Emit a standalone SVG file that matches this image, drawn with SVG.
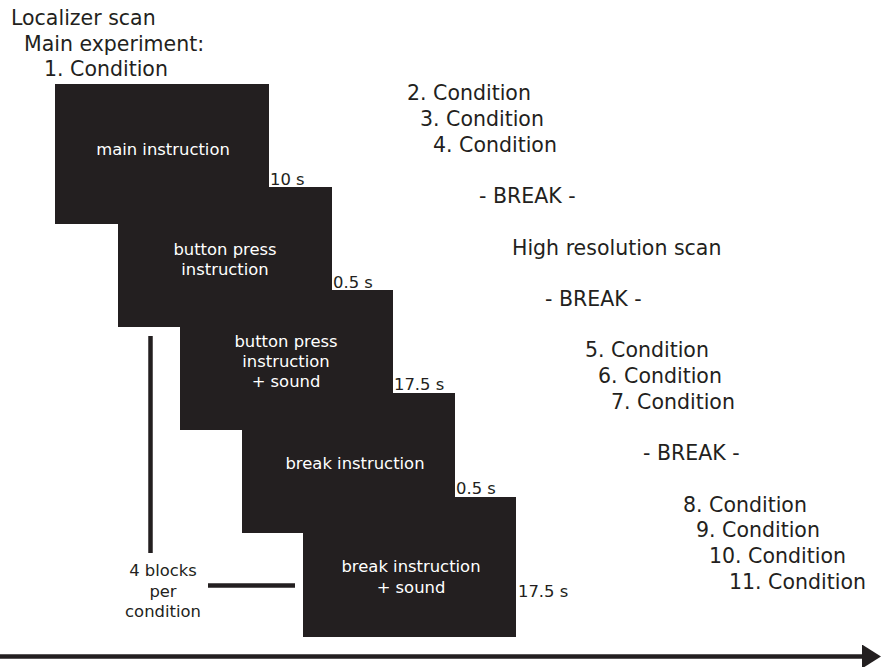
<svg xmlns="http://www.w3.org/2000/svg" width="881" height="667" viewBox="0 0 881 667">
<style>
text{font-family:"DejaVu Sans","Liberation Sans",sans-serif;fill:#231f20}
.big{font-size:20.5px}
.box{fill:#231f20}
.in{font-size:16.4px;fill:#ffffff;text-anchor:middle}
.dur{font-size:16.4px}
.note{font-size:16.4px;text-anchor:middle}
.bar{stroke:#231f20;stroke-width:4.5;fill:none}
</style>
<defs>
<marker id="ah" viewBox="0 0 10 10" refX="0" refY="5" markerWidth="19" markerHeight="24" markerUnits="userSpaceOnUse" orient="auto" preserveAspectRatio="none">
<path d="M0,0 L10,5 L0,10 Z" fill="#231f20"/>
</marker>
</defs>
<rect width="881" height="667" fill="#ffffff"/>
<g id="header">
<text class="big" x="11" y="25">Localizer scan</text>
<text class="big" x="24" y="51">Main experiment:</text>
<text class="big" x="44" y="76">1. Condition</text>
</g>
<g id="box1">
<rect class="box" x="55" y="84" width="214" height="140"/>
<text class="in" x="163" y="155">main instruction</text>
<text class="dur" x="270" y="185">10 s</text>
</g>
<g id="box2">
<rect class="box" x="118" y="187" width="214" height="140"/>
<text class="in" x="225" y="255">button press</text>
<text class="in" x="225" y="275">instruction</text>
<text class="dur" x="333" y="288">0.5 s</text>
</g>
<g id="box3">
<rect class="box" x="180" y="290" width="213" height="140"/>
<text class="in" x="286" y="347">button press</text>
<text class="in" x="286" y="367">instruction</text>
<text class="in" x="286" y="387">+ sound</text>
<text class="dur" x="394" y="390">17.5 s</text>
</g>
<g id="box4">
<rect class="box" x="242" y="393" width="213" height="140"/>
<text class="in" x="355" y="469">break instruction</text>
<text class="dur" x="456" y="494">0.5 s</text>
</g>
<g id="box5">
<rect class="box" x="303" y="497" width="213" height="140"/>
<text class="in" x="411" y="572">break instruction</text>
<text class="in" x="411" y="593">+ sound</text>
<text class="dur" x="518" y="597">17.5 s</text>
</g>
<g id="blocks-note">
<text class="note" x="163" y="576">4 blocks</text>
<text class="note" x="163" y="597">per</text>
<text class="note" x="163" y="617">condition</text>
</g>
<g id="sequence">
<text class="big" x="407" y="100">2. Condition</text>
<text class="big" x="420" y="126">3. Condition</text>
<text class="big" x="433" y="152">4. Condition</text>
<text class="big" x="479" y="203">- BREAK -</text>
<text class="big" x="512" y="255">High resolution scan</text>
<text class="big" x="545" y="306">- BREAK -</text>
<text class="big" x="585" y="357">5. Condition</text>
<text class="big" x="598" y="383">6. Condition</text>
<text class="big" x="611" y="409">7. Condition</text>
<text class="big" x="643" y="460">- BREAK -</text>
<text class="big" x="683" y="512">8. Condition</text>
<text class="big" x="696" y="537">9. Condition</text>
<text class="big" x="709" y="563">10. Condition</text>
<text class="big" x="729" y="589">11. Condition</text>
</g>
<g id="connectors">
<line class="bar" x1="150.5" y1="336" x2="150.5" y2="553"/>
<line class="bar" x1="208" y1="585.5" x2="295" y2="585.5"/>
<line class="bar" x1="0" y1="656.5" x2="862" y2="656.5" marker-end="url(#ah)"/>
</g>
</svg>
